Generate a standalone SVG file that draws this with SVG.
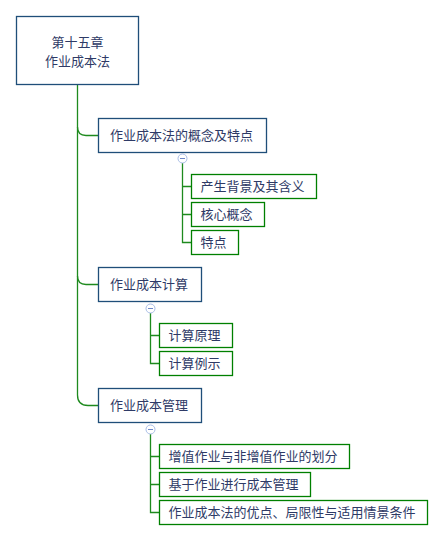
<svg xmlns="http://www.w3.org/2000/svg" width="444" height="541" viewBox="0 0 444 541">
<style>
.main{fill:#fff;stroke:#1f4e79;stroke-width:1.3}
.sub{fill:#fff;stroke:#008000;stroke-width:1.3}
.t{font-family:"Noto Sans CJK SC","Noto Sans CJK JP",sans-serif;font-size:13px;fill:#2e3a66}
.c{text-anchor:middle}
.ln{fill:none;stroke:#1e8a1e;stroke-width:1.3}
.tog{fill:#fff;stroke:#a9bde6;stroke-width:1}
.minus{stroke:#6f88c8;stroke-width:1}
</style>
<rect width="444" height="541" fill="#fff"/>
<g id="connectors">
<path class="ln" d="M77.5 84.5 V395 Q77.5 405.5 88 405.5 H98.5"/>
<path class="ln" d="M77.5 127 Q77.5 135.5 86 135.5 H98.5"/>
<path class="ln" d="M77.5 276 Q77.5 284.5 86 284.5 H98.5"/>
<path class="ln" d="M182.5 163 V242.5 H191.5 M182.5 186.5 H191.5 M182.5 214.5 H191.5"/>
<path class="ln" d="M150.5 313 V363.5 H159.5 M150.5 335.5 H159.5"/>
<path class="ln" d="M150.5 434 V512.5 H159.5 M150.5 456.5 H159.5 M150.5 484.5 H159.5"/>
<circle class="tog" cx="182.5" cy="158.5" r="4.5"/><line class="minus" x1="180" y1="158.5" x2="185" y2="158.5"/>
<circle class="tog" cx="150.5" cy="308.5" r="4.5"/><line class="minus" x1="148" y1="308.5" x2="153" y2="308.5"/>
<circle class="tog" cx="150.5" cy="429.5" r="4.5"/><line class="minus" x1="148" y1="429.5" x2="153" y2="429.5"/>
</g>
<g id="root">
<rect class="main" x="16.5" y="16.5" width="122" height="68"/>
<text class="t c" x="77.5" y="47">第十五章</text>
<text class="t c" x="77.5" y="66">作业成本法</text>
</g>
<g id="n1">
<rect class="main" x="98.5" y="118.5" width="168" height="34"/>
<text class="t" x="110" y="140">作业成本法的概念及特点</text>
</g>
<g id="n1a"><rect class="sub" x="191.5" y="174.5" width="125" height="24"/><text class="t" x="200.5" y="191">产生背景及其含义</text></g>
<g id="n1b"><rect class="sub" x="191.5" y="202.5" width="73" height="24"/><text class="t" x="200.5" y="219">核心概念</text></g>
<g id="n1c"><rect class="sub" x="191.5" y="230.5" width="47" height="24"/><text class="t" x="200.5" y="247">特点</text></g>
<g id="n2">
<rect class="main" x="98.5" y="267.5" width="103" height="34"/>
<text class="t" x="110" y="289">作业成本计算</text>
</g>
<g id="n2a"><rect class="sub" x="159.5" y="323.5" width="73" height="24"/><text class="t" x="168.5" y="340">计算原理</text></g>
<g id="n2b"><rect class="sub" x="159.5" y="351.5" width="73" height="24"/><text class="t" x="168.5" y="368">计算例示</text></g>
<g id="n3">
<rect class="main" x="98.5" y="388.5" width="103" height="34"/>
<text class="t" x="110" y="410">作业成本管理</text>
</g>
<g id="n3a"><rect class="sub" x="159.5" y="444.5" width="190" height="24"/><text class="t" x="168.5" y="461">增值作业与非增值作业的划分</text></g>
<g id="n3b"><rect class="sub" x="159.5" y="472.5" width="151" height="24"/><text class="t" x="168.5" y="489">基于作业进行成本管理</text></g>
<g id="n3c"><rect class="sub" x="159.5" y="500.5" width="268" height="24"/><text class="t" x="168.5" y="517">作业成本法的优点、局限性与适用情景条件</text></g>
</svg>
